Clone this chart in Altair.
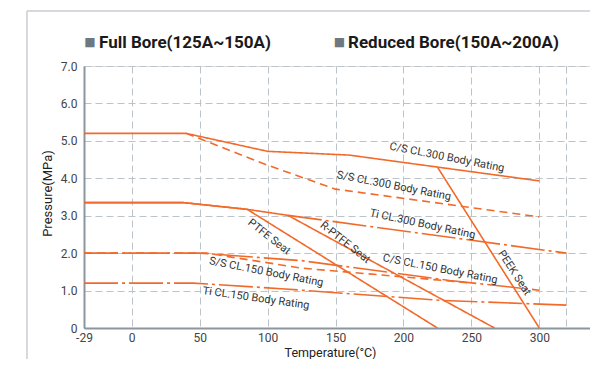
import altair as alt
import pandas as pd

# ---------------- data ----------------
series_names = ["C/S CL.300", "S/S CL.300", "Ti CL.300", "PTFE", "R-PTFE", "PEEK",
                "C/S CL.150", "S/S CL.150", "Ti CL.150"]

temps_cs300 = [-29, 40, 100, 160, 300]
pres_cs300 = [5.2, 5.2, 4.72, 4.62, 3.93]
temps_ss300 = [40, 100, 150, 300]
pres_ss300 = [5.2, 4.35, 3.71, 2.97]
temps_ti300 = [115, 320]
pres_ti300 = [3.01, 2.0]
temps_ptfe = [-29, 38, 85, 225]
pres_ptfe = [3.35, 3.35, 3.17, 0.0]
temps_rptfe = [-29, 38, 85, 115, 267]
pres_rptfe = [3.35, 3.35, 3.17, 3.01, 0.0]
temps_peek = [225, 300]
pres_peek = [4.3, 0.0]
temps_cs150 = [-29, 50, 125, 234, 300]
pres_cs150 = [2.0, 2.0, 1.8, 1.27, 1.01]
temps_ss150 = [-29, 55, 125, 205, 250]
pres_ss150 = [2.0, 2.0, 1.6, 1.35, 1.2]
temps_ti150 = [-29, 45, 110, 227, 320]
pres_ti150 = [1.2, 1.2, 1.05, 0.74, 0.61]

label_texts = ["C/S CL.300 Body Rating", "S/S CL.300 Body Rating", "Ti CL.300 Body Rating",
               "PTFE Seat", "R-PTFE Seat", "PEEK Seat",
               "C/S CL.150 Body Rating", "S/S CL.150 Body Rating", "Ti CL.150 Body Rating"]
label_temps = [232, 193, 214, 101, 157, 281.5, 227, 99, 91.5]
label_pres = [4.55, 3.79, 2.77, 2.43, 2.28, 1.47, 1.57, 1.49, 0.79]
label_angles = [11, 11, 12, 38, 38, 57, 11, 11, 8]

x_ticks = [-29, 0, 50, 100, 150, 200, 250, 300, 320]
y_ticks = [0, 1, 2, 3, 4, 5, 6, 7]

# ---------------- styles ----------------
ORANGE = "#f26a2a"
FONT = "Roboto, Liberation Sans, sans-serif"
DASHED = [8, 5]
DASHDOT = [34, 4, 3, 4]
SOLID = [1, 0]
series_dash = [SOLID, DASHED, DASHDOT, SOLID, SOLID, SOLID, DASHDOT, DASHED, DASHDOT]

all_t = [temps_cs300, temps_ss300, temps_ti300, temps_ptfe, temps_rptfe, temps_peek,
         temps_cs150, temps_ss150, temps_ti150]
all_p = [pres_cs300, pres_ss300, pres_ti300, pres_ptfe, pres_rptfe, pres_peek,
         pres_cs150, pres_ss150, pres_ti150]

rows = []
for name, ts, ps in zip(series_names, all_t, all_p):
    for i, (t, p) in enumerate(zip(ts, ps)):
        rows.append({"series": name, "T": t, "P": p, "idx": i})
lines_df = pd.DataFrame(rows)

labels_df = pd.DataFrame({"text": label_texts, "T": label_temps, "P": label_pres,
                          "ang": label_angles})

W, H = 506, 262
x_scale = alt.Scale(domain=[-29, 0, 337.3], range=[0, 47.7, W], nice=False, zero=False)
y_scale = alt.Scale(domain=[0, 7], nice=False, zero=False)

x_axis = alt.Axis(values=x_ticks, title="Temperature(°C)",
                  labelExpr="datum.value == 320 ? '' : datum.value",
                  labelOverlap=False, labelFlush=False,
                  grid=True, gridDash=[7, 4], gridColor="#bcc3c9", gridWidth=1,
                  ticks=False, domainColor="#8c969e", domainWidth=2,
                  labelFont=FONT, labelFontSize=12, labelColor="#444444",
                  labelPadding=4, titleFont=FONT, titleFontSize=12.5,
                  titleFontWeight="normal", titleColor="#222222",
                  titleX=246, titleY=24.5, titleBaseline="middle", titleAlign="center")
y_axis = alt.Axis(values=y_ticks, title="Pressure(MPa)",
                  labelExpr="datum.value == 0 ? '0' : format(datum.value, '.1f')",
                  labelOverlap=False, labelFlush=False,
                  grid=True, gridDash=[7, 4], gridColor="#bcc3c9", gridWidth=1,
                  ticks=False, domainColor="#8c969e", domainWidth=2,
                  labelFont=FONT, labelFontSize=12, labelColor="#444444",
                  labelPadding=7, titleFont=FONT, titleFontSize=13,
                  titleFontWeight="normal", titleColor="#222222",
                  titleX=-37, titleY=127, titleAngle=270,
                  titleBaseline="middle", titleAlign="center")

lines = alt.Chart(lines_df).mark_line(strokeWidth=1.6, color=ORANGE, clip=True).encode(
    x=alt.X("T:Q", scale=x_scale, axis=x_axis),
    y=alt.Y("P:Q", scale=y_scale, axis=y_axis),
    detail="series:N",
    order="idx:Q",
    strokeDash=alt.StrokeDash("series:N",
                              scale=alt.Scale(domain=series_names, range=series_dash),
                              legend=None),
)

labels = alt.Chart(labels_df).mark_text(font=FONT, fontSize=11, color="#333333",
                                         align="center", baseline="middle").encode(
    x=alt.X("T:Q", scale=x_scale, axis=x_axis),
    y=alt.Y("P:Q", scale=y_scale, axis=y_axis),
    text="text:N",
    angle=alt.Angle("ang:Q", scale=None),
)

dummy = pd.DataFrame({"a": [0]})
frame_top = alt.Chart(dummy).mark_rule(color="#c9cdd2", strokeWidth=1.5).encode(
    x=alt.value(-57), x2=alt.value(W), y=alt.value(-55))
frame_left = alt.Chart(dummy).mark_rule(color="#c9cdd2", strokeWidth=1.5).encode(
    x=alt.value(-57), y=alt.value(-55), y2=alt.value(300))

sq1 = alt.Chart(dummy).mark_text(text="■", font="DejaVu Sans", fontSize=12, color="#6f7880",
                                 align="center", baseline="middle").encode(
    x=alt.value(6), y=alt.value(-24))
t1 = alt.Chart(dummy).mark_text(text="Full Bore(125A~150A)", font=FONT, fontSize=17,
                                fontWeight="bold", color="#1a1a1a",
                                align="left", baseline="middle").encode(
    x=alt.value(15), y=alt.value(-23))
sq2 = alt.Chart(dummy).mark_text(text="■", font="DejaVu Sans", fontSize=12, color="#6f7880",
                                 align="center", baseline="middle").encode(
    x=alt.value(255.5), y=alt.value(-24))
t2 = alt.Chart(dummy).mark_text(text="Reduced Bore(150A~200A)", font=FONT, fontSize=17,
                                fontWeight="bold", color="#1a1a1a",
                                align="left", baseline="middle").encode(
    x=alt.value(264), y=alt.value(-23))

chart = alt.layer(lines, labels, frame_top, frame_left, sq1, t1, sq2, t2).properties(
    width=W, height=H,
    autosize=alt.AutoSizeParams(type="none"),
    padding={"left": 76, "top": 58, "right": 0, "bottom": 31},
).configure_view(stroke=None).configure(background="white")

chart.save("out.html", embed_options={"renderer": "svg", "actions": False})
